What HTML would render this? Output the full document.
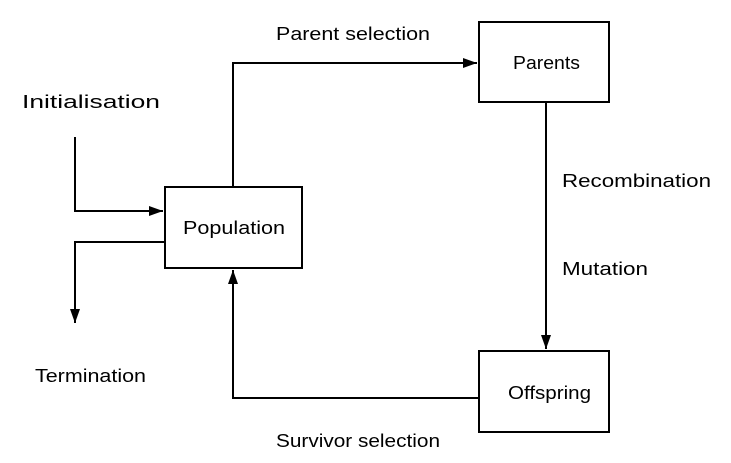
<!DOCTYPE html>
<html><head><meta charset="utf-8"><style>
html,body{margin:0;padding:0;background:#fff;}
svg{display:block;}
text{font-family:"Liberation Sans",sans-serif;font-size:18px;fill:#000;}
</style></head><body>
<svg width="731" height="463" viewBox="0 0 731 463" xmlns="http://www.w3.org/2000/svg">
<defs><marker id="a" markerWidth="14" markerHeight="10" refX="14" refY="5" orient="auto" markerUnits="userSpaceOnUse"><path d="M0,0 L14,5 L0,10 Z" fill="#000"/></marker></defs>
<g fill="none" stroke="#000" stroke-width="2">
<rect x="165" y="187" width="137" height="81"/>
<rect x="479" y="22" width="130" height="80"/>
<rect x="479" y="351" width="130" height="81"/>
<polyline points="233,187 233,63 477,63" marker-end="url(#a)"/>
<polyline points="546,102 546,349" marker-end="url(#a)"/>
<polyline points="479,398 233,398 233,270" marker-end="url(#a)"/>
<polyline points="75,137 75,211 163,211" marker-end="url(#a)"/>
<polyline points="165,242 75,242 75,323" marker-end="url(#a)"/>
</g>
<text x="276" y="40" textLength="154" lengthAdjust="spacingAndGlyphs">Parent selection</text>
<text x="22" y="108" textLength="138" lengthAdjust="spacingAndGlyphs">Initialisation</text>
<text x="183" y="234" textLength="102" lengthAdjust="spacingAndGlyphs">Population</text>
<text x="513" y="69" textLength="67" lengthAdjust="spacingAndGlyphs">Parents</text>
<text x="562" y="187" textLength="149" lengthAdjust="spacingAndGlyphs">Recombination</text>
<text x="562" y="275" textLength="86" lengthAdjust="spacingAndGlyphs">Mutation</text>
<text x="508" y="399" textLength="83" lengthAdjust="spacingAndGlyphs">Offspring</text>
<text x="35" y="382" textLength="111" lengthAdjust="spacingAndGlyphs">Termination</text>
<text x="276" y="447" textLength="164" lengthAdjust="spacingAndGlyphs">Survivor selection</text>
</svg>
</body></html>
